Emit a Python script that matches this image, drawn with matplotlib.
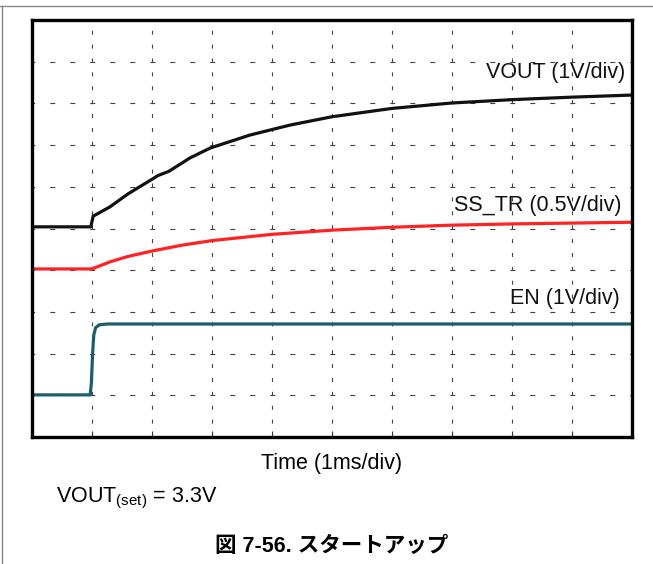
import matplotlib
matplotlib.use('Agg')
import matplotlib.pyplot as plt
from matplotlib.lines import Line2D

plt.rcParams['font.family'] = ['Liberation Sans', 'Noto Sans CJK JP', 'DejaVu Sans']
plt.rcParams['mathtext.fontset'] = 'custom'
plt.rcParams['mathtext.rm'] = 'Liberation Sans'

# 时间 (ms, 1ms/div) 与各通道读数 (屏幕格数)
vout_t = [0, 0.98, 1.02, 1.05, 1.1, 1.3, 1.6, 2.0, 2.1, 2.28, 2.63, 2.97, 3.63, 4.3, 5, 6, 7, 8, 9, 10]
vout_y = [5.04, 5.04, 5.30, 5.32, 5.36, 5.52, 5.83, 6.18, 6.27, 6.37, 6.69, 6.93, 7.24, 7.48, 7.68, 7.88, 8.01, 8.09, 8.15, 8.20]

ss_t = [0, 1.0, 1.05, 1.3, 1.6, 2, 2.5, 3, 4, 5, 6, 7, 8, 9, 10]
ss_y = [4.03, 4.03, 4.06, 4.20, 4.33, 4.46, 4.60, 4.71, 4.86, 4.96, 5.03, 5.08, 5.11, 5.13, 5.15]

en_t = [0, 0.97, 0.99, 1.01, 1.03, 1.06, 1.12, 1.25, 10]
en_y = [1.01, 1.01, 1.30, 2.00, 2.45, 2.62, 2.69, 2.71, 2.71]

labels = ['VOUT (1V/div)', 'SS_TR (0.5V/div)', 'EN (1V/div)']
label_pos = [(9.88, 8.75), (9.83, 5.56), (9.8, 3.33)]

fig = plt.figure(figsize=(6.53, 5.64), dpi=100)
ax = fig.add_axes([32 / 653, 1 - 437 / 564, 600 / 653, 417 / 564])

ax.plot(vout_t, vout_y, color='#111111', lw=2.3, solid_capstyle='butt')
ax.plot(ss_t, ss_y, color='#ff2222', lw=2.3, solid_capstyle='butt')
ax.plot(en_t, en_y, color='#1c5d6c', lw=2.3, solid_capstyle='butt')

for txt, (x, y) in zip(labels, label_pos):
    ax.text(x, y, txt, ha='right', va='center', fontsize=15.5, color='#111111')

ax.set_xlim(0, 10)
ax.set_ylim(0, 10)
ax.set_xticks(range(11))
ax.set_yticks(range(11))
ax.tick_params(axis='x', direction='in', length=4, width=0.8, colors='#333333',
               labelbottom=False, top=False)
ax.tick_params(axis='y', length=0, labelleft=False)
ax.grid(axis='x', color='#444444', lw=0.8, linestyle=(0, (3.6, 8.9)))
ax.grid(axis='y', color='#444444', lw=0.8, linestyle=(2, (4.5, 13.5)))
ax.set_axisbelow(True)
for s in ax.spines.values():
    s.set_linewidth(2.4)
    s.set_color('black')

fig.text(332 / 653, 1 - 463 / 564, 'Time (1ms/div)', ha='center', va='center', fontsize=15.5)
fig.text(56 / 653, 1 - 498 / 564, r'VOUT$_{\mathregular{(set)}}$ = 3.3V', ha='left', va='center', fontsize=15.5)
fig.text(332 / 653, 1 - 547 / 564, '図 7-56. スタートアップ', ha='center', va='center',
         fontsize=15.5, fontweight='bold')

# 外框
fig.add_artist(Line2D([0, 1], [1 - 6 / 564] * 2, color='#888888', lw=1, transform=fig.transFigure))
fig.add_artist(Line2D([1.5 / 653] * 2, [0, 1 - 6 / 564], color='#888888', lw=1, transform=fig.transFigure))

fig.savefig('out.png', dpi=100)
